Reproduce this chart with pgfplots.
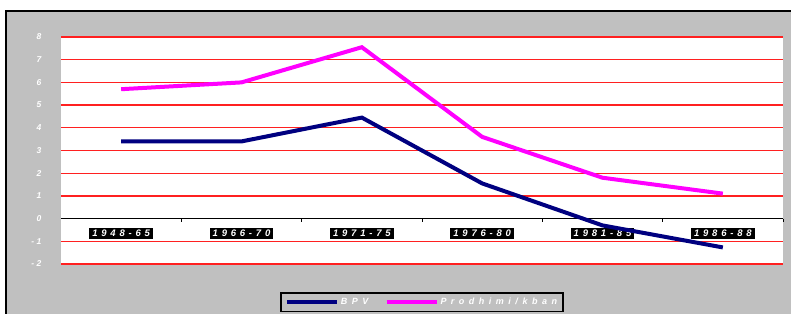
\documentclass[border=0pt]{standalone}
\usepackage{fontspec}
\setmainfont{Liberation Sans}
\newfontfamily\xlab[LetterSpace=40]{Liberation Sans}
\newfontfamily\ylab[LetterSpace=30]{Liberation Sans}
\newfontfamily\leglab[LetterSpace=50]{Liberation Sans}
\usepackage{pgfplots}
\pgfplotsset{compat=1.18}
\definecolor{bgray}{HTML}{C0C0C0}
\definecolor{navyc}{HTML}{000080}
\definecolor{magc}{HTML}{FF00FF}
\definecolor{gridred}{HTML}{FF2020}
\begin{document}
\begin{tikzpicture}[x=1pt,y=1pt]
\clip (0,0) rectangle (791,313);
\fill[white] (0,0) rectangle (791,313);
\filldraw[fill=bgray, draw=black, line width=2pt] (6,-10) rectangle (800,301.5);
\begin{axis}[
  at={(61pt,49pt)}, anchor=south west,
  scale only axis, width=722pt, height=227pt,
  xmin=0.5, xmax=6.5, ymin=-2, ymax=8,
  axis background/.style={fill=white},
  axis x line=middle, axis y line=left,
  x axis line style={-, black, line width=1.2pt},
  y axis line style={draw=none},
  xtick={0.5,1.5,2.5,3.5,4.5,5.5,6.5}, xticklabels={},
  tick align=outside,
  xtick style={black, line width=1pt},
  major tick length=3pt,
  ytick={-2,-1,0,1,2,3,4,5,6,7,8},
  ytick style={draw=none},
  ymajorgrids, grid style={gridred, line width=1.3pt},
  /pgf/number format/assume math mode=true,
  yticklabel style={font=\ylab\bfseries\itshape\fontsize{8.5}{9}\selectfont, text=white, anchor=east, xshift=-13pt},
  extra x ticks={1,2,3,4,5,6},
  extra x tick labels={1948-65,1966-70,1971-75,1976-80,1981-85,1986-88},
  extra x tick style={major tick length=0pt, tick style={draw=none},
    tick label style={fill=black, text=white, font=\xlab\bfseries\itshape\fontsize{9.5}{10}\selectfont,
      inner xsep=3pt, inner ysep=2pt, anchor=north, yshift=-9.5pt}},
  legend columns=2,
  legend style={fill=bgray, draw=black, line width=1.5pt, at={(0.5,-0.2115)}, anchor=south,
    font=\leglab\bfseries\itshape\fontsize{9}{10}\selectfont, text=white,
    inner xsep=4pt, inner ysep=3pt,
    /tikz/every even column/.append style={column sep=14pt}},
  legend image code/.code={\draw[#1, line width=4pt] (0,0) -- (50pt,0);},
]
\addplot[navyc, line width=4pt] coordinates {(1,3.4) (2,3.4) (3,4.45) (4,1.55) (5,-0.3) (6,-1.27)};
\addlegendentry{BPV}
\addplot[magc, line width=4pt] coordinates {(1,5.7) (2,6.0) (3,7.55) (4,3.6) (5,1.8) (6,1.1)};
\addlegendentry{Prodhimi/kban}
\end{axis}
\end{tikzpicture}
\end{document}
